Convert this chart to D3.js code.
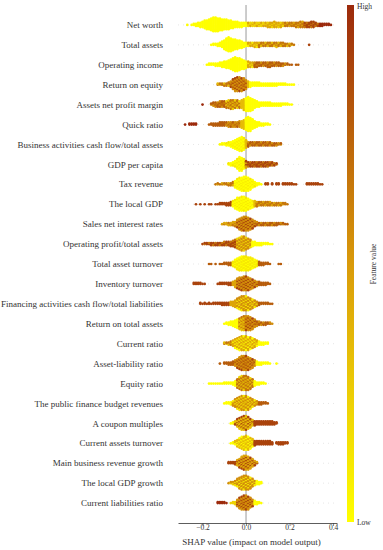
<!DOCTYPE html>
<html><head><meta charset="utf-8">
<script src="https://cdn.jsdelivr.net/npm/d3@7"></script>
<style>
html,body{margin:0;padding:0;background:#fff;}
svg{display:block;font-family:"Liberation Serif","Times New Roman",serif;}
</style></head>
<body><svg id="c" width="383" height="550"></svg>
<script>
// ---- data ----
const features = [
  "Net worth","Total assets","Operating income","Return on equity","Assets net profit margin",
  "Quick ratio","Business activities cash flow/total assets","GDP per capita","Tax revenue","The local GDP",
  "Sales net interest rates","Operating profit/total assets","Total asset turnover","Inventory turnover",
  "Financing activities cash flow/total liabilities","Return on total assets","Current ratio",
  "Asset-liability ratio","Equity ratio","The public finance budget revenues","A coupon multiples",
  "Current assets turnover","Main business revenue growth","The local GDP growth","Current liabilities ratio"
];
// histogram of SHAP values per feature: first bin centre, bin width 0.01
const binWidth = 0.01;
const binStart = [-0.27,-0.16,-0.18,-0.13,-0.20,-0.28,-0.12,-0.08,-0.14,-0.23,-0.11,-0.20,-0.17,-0.24,-0.21,-0.10,-0.10,-0.12,-0.17,-0.10,-0.07,-0.07,-0.08,-0.08,-0.13];
const binCounts = [
  [1,0,1,2,3,4,5,6,8,9,10,12,14,14,13,12,11,10,10,9,8,7,6,6,5,5,4,4, 4,4,4,4,4,4,4,4,4,5,5,5,6,5,5,5,4,4,4,4,4,4,5,5,6,6,5,5,5,6,6,4,3,3,3,2,2,2,1],
  [1,2,2,3,4,6,9,12,14,13,11,10,9,8,7,5,4,4,4,4,5,5,5,4,4,4,4,4,4,4,5,4,4,4,3,3,3,2,1,0,0,0,0,0,0,1],
  [1,2,2,2,3,3,4,5,6,7,8,10,12,14,13,12,10,9,7,6,5,5,5,5,4,4,4,4,5,5,4,4,4,4,3,3,2,2,1,1,0,1,1],
  [2,2,2,3,3,4,6,10,13,14,14,13,12,9,6,5,4,4,4,4,3,3,3,3,3,3,3,3,2,2,2,2,1,1,1,1],
  [1,0,0,0,2,4,5,5,6,6,6,7,8,9,9,8,8,7,8,11,13,14,13,11,8,6,5,4,4,4,4,4,3,3,3,3,3,2,2,2,1,1],
  [1,0,2,2,2,2,0,0,0,0,0,1,2,3,3,3,4,4,4,4,5,5,5,5,5,6,7,9,12,14,13,10,7,5,4,3,3,2,2,1],
  [1,2,2,3,4,5,7,9,11,13,14,12,8,5,4,4,4,4,4,4,4,4,4,4,3,3,3,2,2],
  [2,3,4,6,10,14,13,10,7,5,5,5,5,5,5,5,5,5,5,4,4,3,2],
  [1,2,1,2,2,2,3,3,4,7,10,12,13,14,14,13,11,8,5,3,2,1,0,2,2,0,2,0,2,2,0,2,2,2,2,2,1,1,0,0,0,0,2,2,2,2,2,2,1,1],
  [1,0,1,0,1,0,1,1,0,1,1,2,2,2,3,3,4,6,9,12,13,14,14,13,11,9,7,6,5,4,4,4,4,4,4,3,3,3,3,3,2,2,1],
  [1,2,2,3,3,4,5,8,11,13,14,14,13,11,9,6,4,3,3,3,3,3,3,3,3,3,2,2,2,1,1],
  [1,2,2,2,3,3,3,3,3,3,4,4,4,5,6,8,10,12,14,14,12,10,8,5,4,3,3,3,2,2,2,1,1],
  [1,1,0,1,0,1,1,2,2,3,3,5,8,11,13,14,14,14,13,12,10,8,6,4,3,3,2,2,1,0,0,0,1,1],
  [2,2,2,2,1,1,0,0,0,0,0,1,2,2,2,2,3,3,4,7,10,12,13,14,14,13,11,9,7,5,4,3,3,3,2,1],
  [2,1,2,1,2,1,2,2,2,2,3,3,3,3,4,5,7,10,12,14,14,14,13,11,9,7,5,3,2,2,2,2,1,1],
  [1,2,3,4,5,7,9,11,13,14,14,14,13,11,8,5,4,3,3,3,2,2,1],
  [2,2,3,4,6,9,11,13,14,14,14,13,12,10,8,6,4,3,3,2,2],
  [1,0,2,2,3,3,4,6,9,12,14,14,14,13,11,9,6,4,3,3,2,2,2,1,0,0,1],
  [1,1,1,1,1,1,1,2,2,2,2,3,5,9,12,14,14,14,13,11,8,5,3,3,2,2,1],
  [1,2,2,3,5,8,11,13,14,14,14,13,11,8,6,4,3,3,2,2,1],
  [1,2,4,8,11,13,14,14,12,9,6,5,4,4,4,4,4,4,4,4,3,2],
  [1,2,4,7,10,12,13,14,13,11,8,5,4,4,4,4,4,4,4,3,0,2,3,3,3,2,2],
  [2,2,2,3,6,9,12,14,14,13,11,8,5,2],
  [1,2,3,5,8,11,13,14,14,13,11,8,5,4,3,2],
  [2,2,2,2,1,0,1,2,3,7,11,13,14,14,13,10,7,4,3,2,1]
];
// feature value (0 = low .. 9 = high) by SHAP range: [up to SHAP value, main level, mixed-in level]
const colorRuns = [
  [[0.00,0],[0.08,2,4],[0.17,4,2],[0.26,6,4],[0.33,8,6],[0.5,9]],
  [[0.00,0],[0.05,4,1],[0.22,6,3],[0.5,8]],
  [[0.00,0],[0.03,4,1],[0.5,7,5]],
  [[-0.08,6,3],[0.00,5,8],[0.01,3],[0.5,0]],
  [[-0.20,9],[-0.10,7,5],[-0.03,6,2],[-0.01,3],[0.5,0]],
  [[-0.23,9],[-0.10,7],[-0.03,5,7],[-0.01,3],[0.5,0]],
  [[-0.01,0,1],[0.00,3],[0.5,7,5]],
  [[-0.01,0,1],[0.00,4,8],[0.5,8,6]],
  [[-0.06,6,4],[0.07,0,1],[0.5,8]],
  [[-0.07,8],[0.03,0,1],[0.04,3],[0.5,6,4]],
  [[-0.05,4,6],[0.04,5,8],[0.5,7,5]],
  [[-0.05,8,6],[0.02,5,2],[0.5,0]],
  [[-0.07,7],[0.05,1,0],[0.5,7]],
  [[-0.07,8],[-0.05,4],[0.05,5,8],[0.5,7]],
  [[-0.08,8],[-0.05,4],[0.05,5,1],[0.5,7]],
  [[-0.04,0],[-0.01,3,6],[0.04,5,8],[0.5,7,5]],
  [[-0.07,6,3],[0.05,4,0],[0.5,0]],
  [[-0.06,7],[0.04,5,8],[0.5,0]],
  [[-0.05,0],[0.03,6,2],[0.5,0]],
  [[-0.07,0],[0.05,5,1],[0.5,7]],
  [[-0.06,0],[0.03,3,8],[0.5,8]],
  [[-0.06,0],[0.03,3,0],[0.5,8]],
  [[-0.05,8],[0.5,4,8]],
  [[-0.06,5,2],[0.04,5,1],[0.5,0]],
  [[-0.08,9],[-0.05,2],[0.03,5,8],[0.5,0]]
];
const xTicks = [-0.2, 0.0, 0.2, 0.4];
const xTitle = "SHAP value (impact on model output)";
const cbarTitle = "Feature value";
const cbarHigh = "High", cbarLow = "Low";

// ---- drawing ----
const svg = d3.select("#c");
const plotTop = 5, plotBottom = 523, plotLeft = 178, plotRight = 337;
const n = features.length;
const x = d3.scaleLinear().domain([-0.3126, 0.418]).range([plotLeft, plotRight]);
const y = d3.scaleLinear().domain([-1, n]).range([plotBottom, plotTop]);
const color = d3.scaleLinear().domain([0, 0.5, 1]).range(["#ffff00", "#d99a0a", "#9c2a0c"]).interpolate(d3.interpolateRgb);
const rowPos = i => y(n - 1 - i);

// row guide lines
svg.append("g").selectAll("line").data(features).join("line")
  .attr("x1", plotLeft).attr("x2", plotRight)
  .attr("y1", (d,i) => rowPos(i)).attr("y2", (d,i) => rowPos(i))
  .attr("stroke", "#cccccc").attr("stroke-width", 0.5).attr("stroke-dasharray", "1,4");

// zero line
svg.append("line").attr("x1", x(0)).attr("x2", x(0)).attr("y1", plotTop).attr("y2", plotBottom)
  .attr("stroke", "#999999").attr("stroke-width", 1);

// points
const halfHeight = 7.4;
const pts = [];
features.forEach((f, i) => {
  const counts = binCounts[i];
  const maxK = Math.ceil((d3.max(counts) - 1) / 2);
  const step = halfHeight / maxK;
  counts.forEach((cnt, b) => {
    const v = binStart[i] + b * binWidth;
    const run = colorRuns[i].find(r => v <= r[0] + 1e-9) || colorRuns[i][colorRuns[i].length - 1];
    for (let j = 0; j < cnt; j++) {
      const k = Math.ceil(j / 2) * (j % 2 ? -1 : 1);
      const lvl = (run.length > 2 && (j + b) % 3 === 1) ? run[2] : run[1];
      pts.push({v, dy: k * step, row: i, c: lvl / 9});
    }
  });
});
svg.append("g").selectAll("circle").data(pts).join("circle")
  .attr("cx", d => x(d.v)).attr("cy", d => rowPos(d.row) + d.dy)
  .attr("r", 1.35).attr("fill", d => color(d.c));

// feature labels
svg.append("g").selectAll("text").data(features).join("text")
  .attr("x", 163).attr("y", (d,i) => rowPos(i)).attr("dy", "0.35em")
  .attr("text-anchor", "end").attr("font-size", 9).attr("fill", "#333333").text(d => d);

// x axis
const ax = svg.append("g").attr("transform", `translate(0,${plotBottom})`)
  .call(d3.axisBottom(x).tickValues(xTicks).tickSize(3).tickPadding(1).tickSizeOuter(0)
    .tickFormat(d => d3.format(".1f")(d).replace("-", "\u2212")));
ax.select(".domain").attr("stroke", "#333333").attr("stroke-width", 0.8);
ax.selectAll(".tick line").attr("stroke", "#333333").attr("stroke-width", 0.6);
ax.selectAll(".tick text").attr("font-family", "Liberation Serif, serif").attr("font-size", 7.5)
  .attr("fill", "#333333").attr("y", 2).attr("dy", "0.71em");
svg.append("text").attr("x", x(0.025)).attr("y", 545).attr("text-anchor", "middle")
  .attr("font-size", 9).attr("fill", "#333333").text(xTitle);

// colour bar
const defs = svg.append("defs");
const grad = defs.append("linearGradient").attr("id", "cb").attr("x1", 0).attr("y1", 1).attr("x2", 0).attr("y2", 0);
[0, 0.25, 0.5, 0.75, 1].forEach(t => grad.append("stop").attr("offset", t).attr("stop-color", color(t)));
svg.append("rect").attr("x", 347).attr("y", plotTop).attr("width", 7).attr("height", plotBottom - 1 - plotTop)
  .attr("fill", "url(#cb)");
svg.append("text").attr("x", 357).attr("y", 9).attr("font-size", 7.5).attr("fill", "#333333").text(cbarHigh);
svg.append("text").attr("x", 357).attr("y", 525).attr("font-size", 7.5).attr("fill", "#333333").text(cbarLow);
svg.append("text").attr("transform", `translate(376,${(plotTop + plotBottom) / 2}) rotate(-90)`)
  .attr("text-anchor", "middle").attr("font-size", 7.5).attr("fill", "#333333").text(cbarTitle);
</script></body></html>
